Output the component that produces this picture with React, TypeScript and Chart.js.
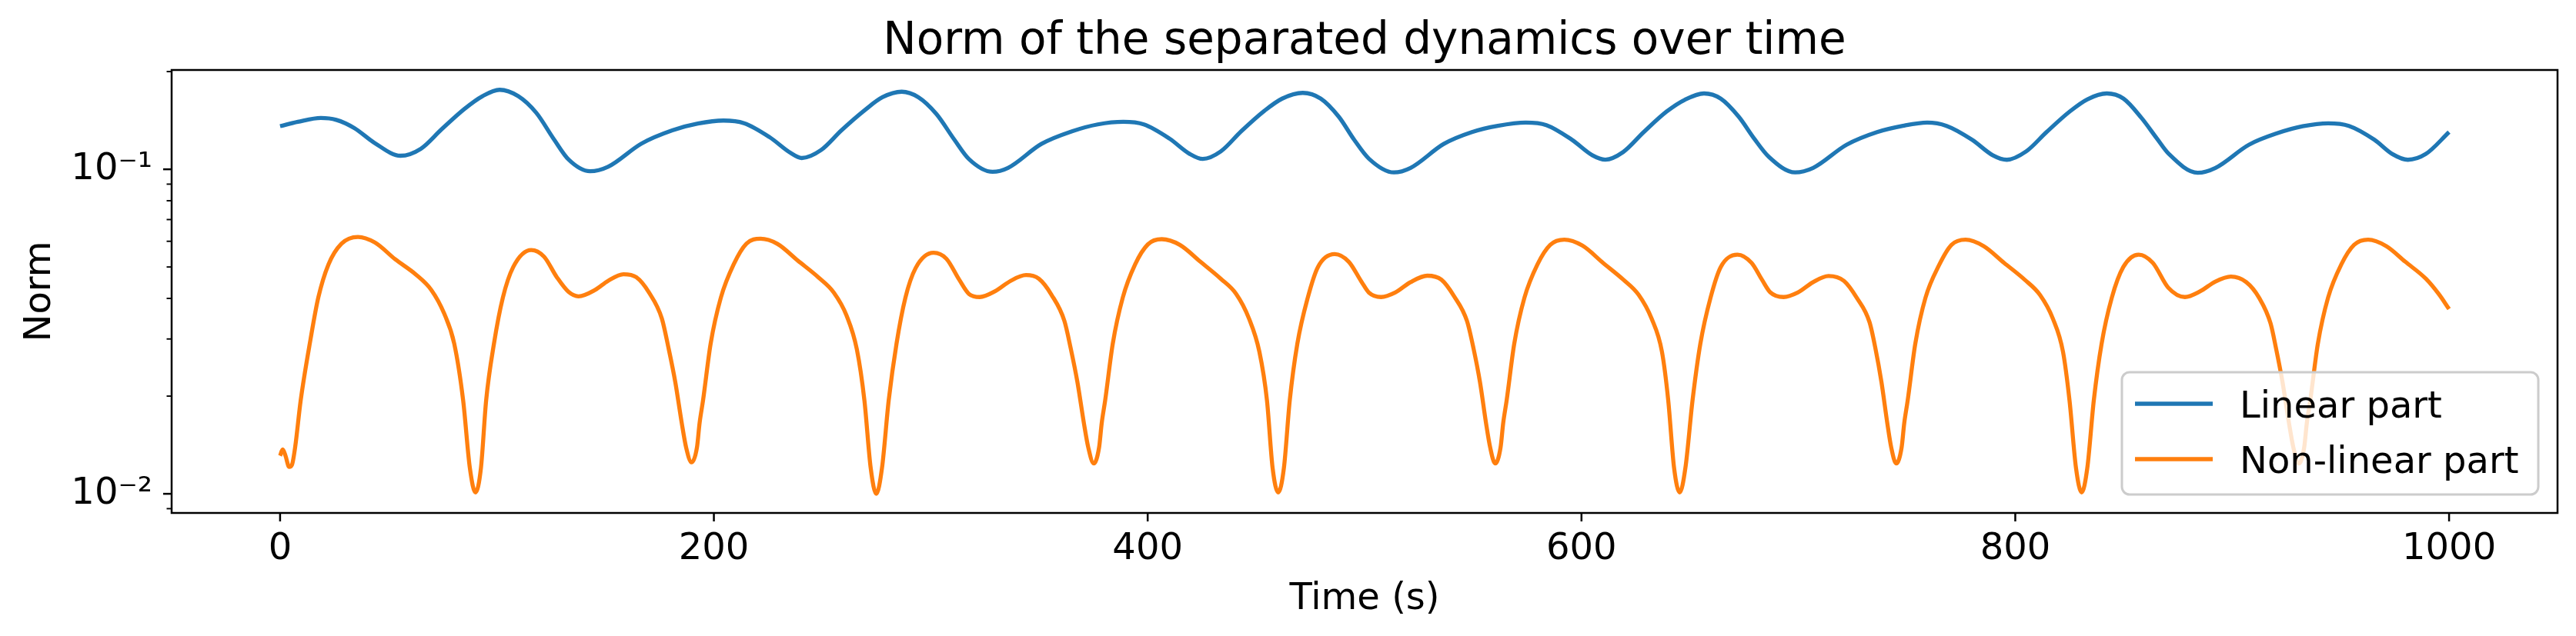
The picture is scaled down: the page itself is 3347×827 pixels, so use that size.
import React, { useEffect, useRef } from 'react';
import { Chart, registerables } from 'chart.js';

Chart.register(...registerables);

const TITLE = 'Norm of the separated dynamics over time';
const X_LABEL = 'Time (s)';
const Y_LABEL = 'Norm';
const SERIES_NAMES = ['Linear part', 'Non-linear part'];
const SERIES_COLORS = ['#1f77b4', '#ff7f0e'];

const linearTime = [
  0, 8.2, 18.8, 25.9, 34.2, 43.6, 55.5, 64.9, 74.4, 85, 93.3, 101.2, 109.8, 118.1, 126.4, 133, 142.9, 151.2,
  166.6, 180.8, 192.6, 204.4, 213.9, 225.7, 235.2, 240.5, 249.4, 258.8, 269.5, 277.7, 286.6, 294.3, 302.6, 310.9,
  317.6, 328.5, 335.6, 351, 365.1, 377, 388.8, 398.2, 410, 419.5, 425.4, 433.7, 443.1, 453.8, 462, 471.5, 479.8,
  488.1, 495.2, 502, 513.5, 521.2, 536.5, 549.5, 561.4, 574.3, 583.8, 595.6, 605, 611, 619.2, 628.7, 639.3, 647.6,
  656.5, 664.2, 672.5, 679.6, 686.4, 698.5, 706.8, 722.2, 736.3, 748.2, 759.4, 768.3, 780.1, 789.6, 796.1, 805,
  814.4, 825.1, 833.3, 842.2, 849.9, 858.2, 865.3, 870.8, 884.1, 892.3, 907.7, 920.7, 932.5, 944.3, 953.8, 965.6,
  973.9, 981, 989.2, 1000,
];
const linearNorm = [
  0.1358, 0.14, 0.1439, 0.142, 0.134, 0.1205, 0.1101, 0.1157, 0.1327, 0.1535, 0.168, 0.1758, 0.168, 0.1493, 0.1233,
  0.1072, 0.0986, 0.1018, 0.12, 0.1318, 0.1383, 0.1413, 0.1387, 0.1256, 0.1125, 0.1083, 0.1146, 0.1318, 0.152,
  0.1667, 0.1734, 0.1667, 0.148, 0.1233, 0.1075, 0.0982, 0.101, 0.1197, 0.1309, 0.1375, 0.14, 0.1375, 0.1244,
  0.1114, 0.1076, 0.1135, 0.1309, 0.1514, 0.1651, 0.172, 0.1651, 0.1452, 0.1233, 0.1078, 0.0978, 0.101, 0.1197,
  0.1302, 0.1361, 0.1393, 0.1368, 0.1233, 0.1105, 0.1071, 0.113, 0.1302, 0.1507, 0.1637, 0.1713, 0.1651, 0.1452,
  0.1244, 0.1092, 0.0978, 0.101, 0.119, 0.1302, 0.1361, 0.1393, 0.1361, 0.1233, 0.1105, 0.107, 0.1135, 0.1302,
  0.1507, 0.1644, 0.1713, 0.1651, 0.1439, 0.1244, 0.1115, 0.0976, 0.101, 0.119, 0.1291, 0.1357, 0.1386, 0.1361,
  0.1233, 0.1114, 0.107, 0.1114, 0.1302,
];

const nonlinearTime = [
  0, 1.2, 2.5, 4.2, 5.5, 7, 9.5, 14.1, 17.6, 22.3, 28.3, 35.9, 43.7, 53.1, 62.6, 69.7, 75.6, 80.3, 84.4, 87.5,
  90.1, 92.6, 95, 98.6, 102.7, 107.5, 115.8, 121.7, 127.6, 133, 137.6, 145.3, 151.2, 158.3, 164.2, 170.1, 176, 179.1,
  182.2, 185.2, 187.2, 189.7,
  192.2, 193.4, 195, 198.5, 203.2, 209.1, 215, 221.5, 229.3, 238.7, 248.1, 255.3, 261.2, 265.9, 269.4, 272.3, 274.9,
  277.5, 280.6, 284.2, 288.3, 293, 301.3, 307.2, 313.1, 317.6, 322.6, 329.7, 336.8, 343.9, 349.8, 355.7, 361.6,
  364.5, 367.6, 370.6, 372.6, 375.1,
  377.6, 378.8, 380.4, 383.9, 388.5, 394.2, 400.1, 406.5, 414.8, 424.3, 433.7, 440.8, 446.7, 451.5, 455, 457.6,
  460.2, 462.8, 465.5, 469, 473.8, 478.5, 486.2, 492.7, 498.6, 502, 507.6, 514.1, 521.2, 528.9, 535.4, 541.3, 547.2,
  550.2, 553.2, 556, 557.9, 560.2,
  562.7, 563.9, 565.5, 569, 573.7, 579.7, 585.6, 592.1, 600.4, 609.9, 619.3, 626.4, 632.3, 637.1, 640, 642.7, 645.3,
  647.9, 651.2, 654.8, 659.5, 664.2, 671.9, 678.4, 683.2, 687, 693.2, 699.7, 706.8, 713.9, 721, 726.9, 732.8, 735.5,
  738.3, 741, 742.8, 745.1,
  747.6, 748.8, 750.4, 753.9, 758.6, 764.7, 770.6, 777.1, 785.4, 794.8, 804.3, 811.4, 817.3, 822, 825, 828, 830.6,
  833.2, 836.2, 839.8, 844.5, 849.8, 856.9, 863.4, 870.5, 878.2, 885.3, 892.3, 899.4, 906.5, 912.4, 917.7, 920.2,
  923.2, 926.2, 928.2, 930.7, 933.2, 934.4, 936, 939.5, 944.2, 950.3, 956.2, 962.7, 971, 979.8, 989.3, 995.2, 1000,
];
const nonlinearNorm = [
  0.0131, 0.0137, 0.0131, 0.0121, 0.0123, 0.014, 0.0194, 0.0301, 0.0402, 0.0509, 0.059, 0.0619, 0.0595, 0.0528,
  0.0474, 0.0425, 0.036, 0.029, 0.0194, 0.012, 0.0101, 0.012, 0.0194, 0.029, 0.0402, 0.05, 0.0564, 0.0538, 0.0465,
  0.0419, 0.0406, 0.0425, 0.0453, 0.0475, 0.0465, 0.0417, 0.0347, 0.0281, 0.0221, 0.0165, 0.0139, 0.0125,
  0.0139, 0.0165, 0.0194, 0.029, 0.0402, 0.0509, 0.059, 0.0611, 0.0589, 0.0523, 0.0465, 0.0417, 0.0354, 0.0279,
  0.0194, 0.012, 0.01, 0.012, 0.0194, 0.029, 0.0402, 0.0496, 0.0553, 0.053, 0.0457, 0.0413, 0.0404, 0.0421, 0.0453,
  0.0472, 0.046, 0.041, 0.0341, 0.0281, 0.0221, 0.0165, 0.0139, 0.0124,
  0.0139, 0.0165, 0.0194, 0.029, 0.0402, 0.0509, 0.0587, 0.0609, 0.0585, 0.0519, 0.046, 0.0413, 0.0347, 0.0274,
  0.0194, 0.012, 0.0101, 0.012, 0.0194, 0.029, 0.0402, 0.05, 0.0548, 0.0519, 0.045, 0.0417, 0.0404, 0.0417, 0.0449,
  0.047, 0.0457, 0.0406, 0.0341, 0.0281, 0.0221, 0.0165, 0.0139, 0.0124,
  0.0139, 0.0165, 0.0194, 0.029, 0.0402, 0.0509, 0.0585, 0.0607, 0.0582, 0.0515, 0.0457, 0.041, 0.0347, 0.0274,
  0.0194, 0.012, 0.0101, 0.012, 0.0194, 0.029, 0.0402, 0.05, 0.0546, 0.0515, 0.0457, 0.0418, 0.0404, 0.0417, 0.0449,
  0.0469, 0.0453, 0.0402, 0.0338, 0.0281, 0.0221, 0.0165, 0.0139, 0.0124,
  0.0139, 0.0165, 0.0194, 0.029, 0.0402, 0.0504, 0.0585, 0.0607, 0.058, 0.0515, 0.0457, 0.041, 0.0347, 0.0274,
  0.0194, 0.012, 0.0101, 0.012, 0.0194, 0.029, 0.0402, 0.05, 0.0546, 0.0515, 0.0432, 0.0404, 0.0421, 0.0451, 0.0467,
  0.0449, 0.0402, 0.0335, 0.0281, 0.0221, 0.0165, 0.0139, 0.0124, 0.0139, 0.0165, 0.0194, 0.029, 0.0402, 0.0509,
  0.0585, 0.0607, 0.058, 0.0519, 0.046, 0.0413, 0.0371,
];

const xTickValues = [0, 200, 400, 600, 800, 1000];
const yTickValues = [0.009, 0.01, 0.02, 0.03, 0.04, 0.05, 0.06, 0.07, 0.08, 0.09, 0.1, 0.2];
const yMajorLabels = ['10⁻²', '10⁻¹'];
const yMajorValues = [0.01, 0.1];

const X_MIN = -50;
const X_MAX = 1050;
const Y_MIN = 0.00873;
const Y_MAX = 0.2023;

const W = 3347;
const H = 827;
const FONT = 'DejaVu Sans';
const FS = 48;
const LINE_W = 5.3;

function majorIndex(v: number) {
  return yMajorValues.findIndex((m) => Math.abs(m - v) < 1e-9);
}

const mplPlugin = {
  id: 'mplDecor',
  afterDraw(chart: any) {
    const { ctx, chartArea: a, scales } = chart;
    const xs = scales.x;
    const ys = scales.y;
    ctx.save();
    ctx.strokeStyle = '#000';
    ctx.lineCap = 'butt';
    ctx.lineWidth = 2.5;
    xTickValues.forEach((v) => {
      const px = xs.getPixelForValue(v);
      ctx.beginPath();
      ctx.moveTo(px, a.bottom);
      ctx.lineTo(px, a.bottom + 11);
      ctx.stroke();
    });
    yTickValues.forEach((v) => {
      const py = ys.getPixelForValue(v);
      const major = majorIndex(v) >= 0;
      ctx.lineWidth = major ? 2.5 : 1.9;
      ctx.beginPath();
      ctx.moveTo(a.left, py);
      ctx.lineTo(a.left - (major ? 11 : 6.5), py);
      ctx.stroke();
    });
    ctx.lineWidth = 2.5;
    ctx.strokeRect(a.left, a.top, a.right - a.left, a.bottom - a.top);

    const lw = 541;
    const lh = 159;
    const lx = a.right - 25 - lw;
    const ly = a.bottom - 24 - lh;
    ctx.beginPath();
    (ctx as any).roundRect(lx, ly, lw, lh, 10);
    ctx.fillStyle = 'rgba(255,255,255,0.8)';
    ctx.fill();
    ctx.strokeStyle = '#cccccc';
    ctx.lineWidth = 3;
    ctx.stroke();
    ctx.font = `${FS}px "${FONT}"`;
    ctx.textBaseline = 'alphabetic';
    ctx.textAlign = 'left';
    SERIES_NAMES.forEach((name, i) => {
      const ry = ly + 41 + i * 72;
      ctx.strokeStyle = SERIES_COLORS[i];
      ctx.lineWidth = LINE_W;
      ctx.beginPath();
      ctx.moveTo(lx + 17, ry);
      ctx.lineTo(lx + 118, ry);
      ctx.stroke();
      ctx.fillStyle = '#000';
      ctx.fillText(name, lx + 153, ry + 17.5);
    });
    ctx.restore();
  },
};

export default function App() {
  const ref = useRef<HTMLCanvasElement>(null);
  useEffect(() => {
    document.body.style.margin = '0';
    const font = { family: FONT, size: FS, weight: 'normal' as const };
    const chart = new Chart(ref.current as HTMLCanvasElement, {
      type: 'line',
      data: {
        datasets: [
          {
            label: SERIES_NAMES[0],
            data: linearTime.map((t, i) => ({ x: t, y: linearNorm[i] })),
            borderColor: SERIES_COLORS[0],
            backgroundColor: SERIES_COLORS[0],
            borderWidth: LINE_W,
            pointRadius: 0,
            cubicInterpolationMode: 'monotone',
            fill: false,
          },
          {
            label: SERIES_NAMES[1],
            data: nonlinearTime.map((t, i) => ({ x: t, y: nonlinearNorm[i] })),
            borderColor: SERIES_COLORS[1],
            backgroundColor: SERIES_COLORS[1],
            borderWidth: LINE_W,
            pointRadius: 0,
            cubicInterpolationMode: 'monotone',
            fill: false,
          },
        ],
      },
      options: {
        responsive: false,
        animation: false,
        devicePixelRatio: 1,
        layout: { padding: { left: 0, right: W - 3323, top: 0, bottom: 0 } },
        plugins: {
          legend: { display: false },
          tooltip: { enabled: false },
          title: {
            display: true,
            text: TITLE,
            fullSize: false,
            color: '#000',
            font: { family: FONT, size: 58, weight: 'normal' },
            padding: { top: 20, bottom: 1.4 },
          },
        },
        scales: {
          x: {
            type: 'linear',
            min: X_MIN,
            max: X_MAX,
            afterBuildTicks: (s: any) => {
              s.ticks = xTickValues.map((v) => ({ value: v }));
            },
            afterFit: (s: any) => {
              s.height = H - 667;
            },
            grid: { display: false, drawTicks: false },
            border: { display: false },
            ticks: {
              autoSkip: false,
              maxRotation: 0,
              padding: 19,
              color: '#000',
              font,
              callback: (v: any) => String(v),
            },
            title: { display: true, text: X_LABEL, color: '#000', font, padding: { top: 0, bottom: 19 } },
          },
          y: {
            type: 'logarithmic',
            min: Y_MIN,
            max: Y_MAX,
            afterBuildTicks: (s: any) => {
              s.ticks = yTickValues.map((v) => ({ value: v }));
            },
            afterFit: (s: any) => {
              s.width = 223;
            },
            grid: { display: false, drawTicks: false },
            border: { display: false },
            ticks: {
              autoSkip: false,
              padding: 25,
              color: '#000',
              font,
              callback: (v: any) => {
                const k = majorIndex(Number(v));
                return k >= 0 ? yMajorLabels[k] : '';
              },
            },
            title: { display: true, text: Y_LABEL, color: '#000', font, padding: { top: 24, bottom: 0 } },
          },
        },
      },
      plugins: [mplPlugin],
    } as any);
    return () => chart.destroy();
  }, []);
  return (
    <div style={{ width: W, height: H }}>
      <canvas ref={ref} width={W} height={H} style={{ display: 'block' }} />
    </div>
  );
}
